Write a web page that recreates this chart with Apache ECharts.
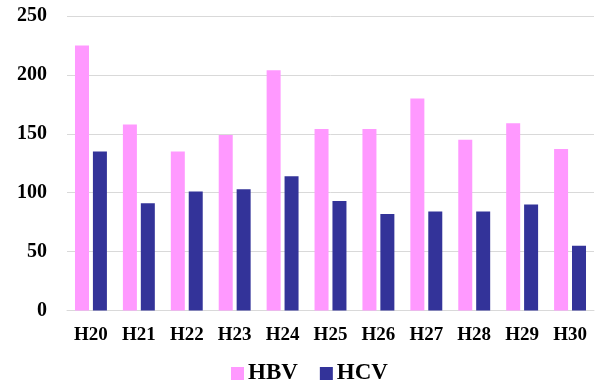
<!DOCTYPE html>
<html>
<head>
<meta charset="utf-8">
<script src="https://cdn.jsdelivr.net/npm/echarts@6/dist/echarts.min.js"></script>
<style>html,body{margin:0;padding:0;background:#fff;}#c{width:598px;height:387px;}</style>
</head>
<body>
<div id="c"></div>
<script>
const categories = ['H20','H21','H22','H23','H24','H25','H26','H27','H28','H29','H30'];
const hbv = [225, 158, 135, 149, 204, 154, 154, 180, 145, 159, 137];
const hcv = [135, 91, 101, 103, 114, 93, 82, 84, 84, 90, 55];
const yTicks = [0, 50, 100, 150, 200, 250];

const font = '"Liberation Serif", "Times New Roman", serif';
const chart = echarts.init(document.getElementById('c'));
chart.setOption({
  animation: false,
  backgroundColor: '#fff',
  grid: { left: 67, right: 4, top: 16, bottom: 76.5 },
  legend: {
    left: 226, top: 357,
    itemWidth: 13, itemHeight: 13, itemGap: 22,
    icon: 'rect',
    textStyle: { fontFamily: font, fontWeight: 'bold', fontSize: 23, color: '#000', padding: [0,0,0,-1] },
    data: ['HBV', 'HCV']
  },
  xAxis: {
    type: 'category',
    data: categories,
    axisLine: { lineStyle: { color: '#d9d9d9', width: 1 } },
    axisTick: { show: false },
    axisLabel: { fontFamily: font, fontWeight: 'bold', fontSize: 19, color: '#000', margin: 15 }
  },
  yAxis: {
    type: 'value',
    min: yTicks[0], max: yTicks[yTicks.length - 1], interval: 50,
    axisLine: { show: false },
    axisTick: { show: false },
    splitLine: { lineStyle: { color: '#d9d9d9', width: 1 } },
    axisLabel: { fontFamily: font, fontWeight: 'bold', fontSize: 20, color: '#000', margin: 20 }
  },
  series: [
    { name: 'HBV', type: 'bar', data: hbv, barWidth: 14, barGap: '28%',
      itemStyle: { color: '#FF99FF' } },
    { name: 'HCV', type: 'bar', data: hcv, barWidth: 14,
      itemStyle: { color: '#333399' } }
  ]
});
</script>
</body>
</html>
